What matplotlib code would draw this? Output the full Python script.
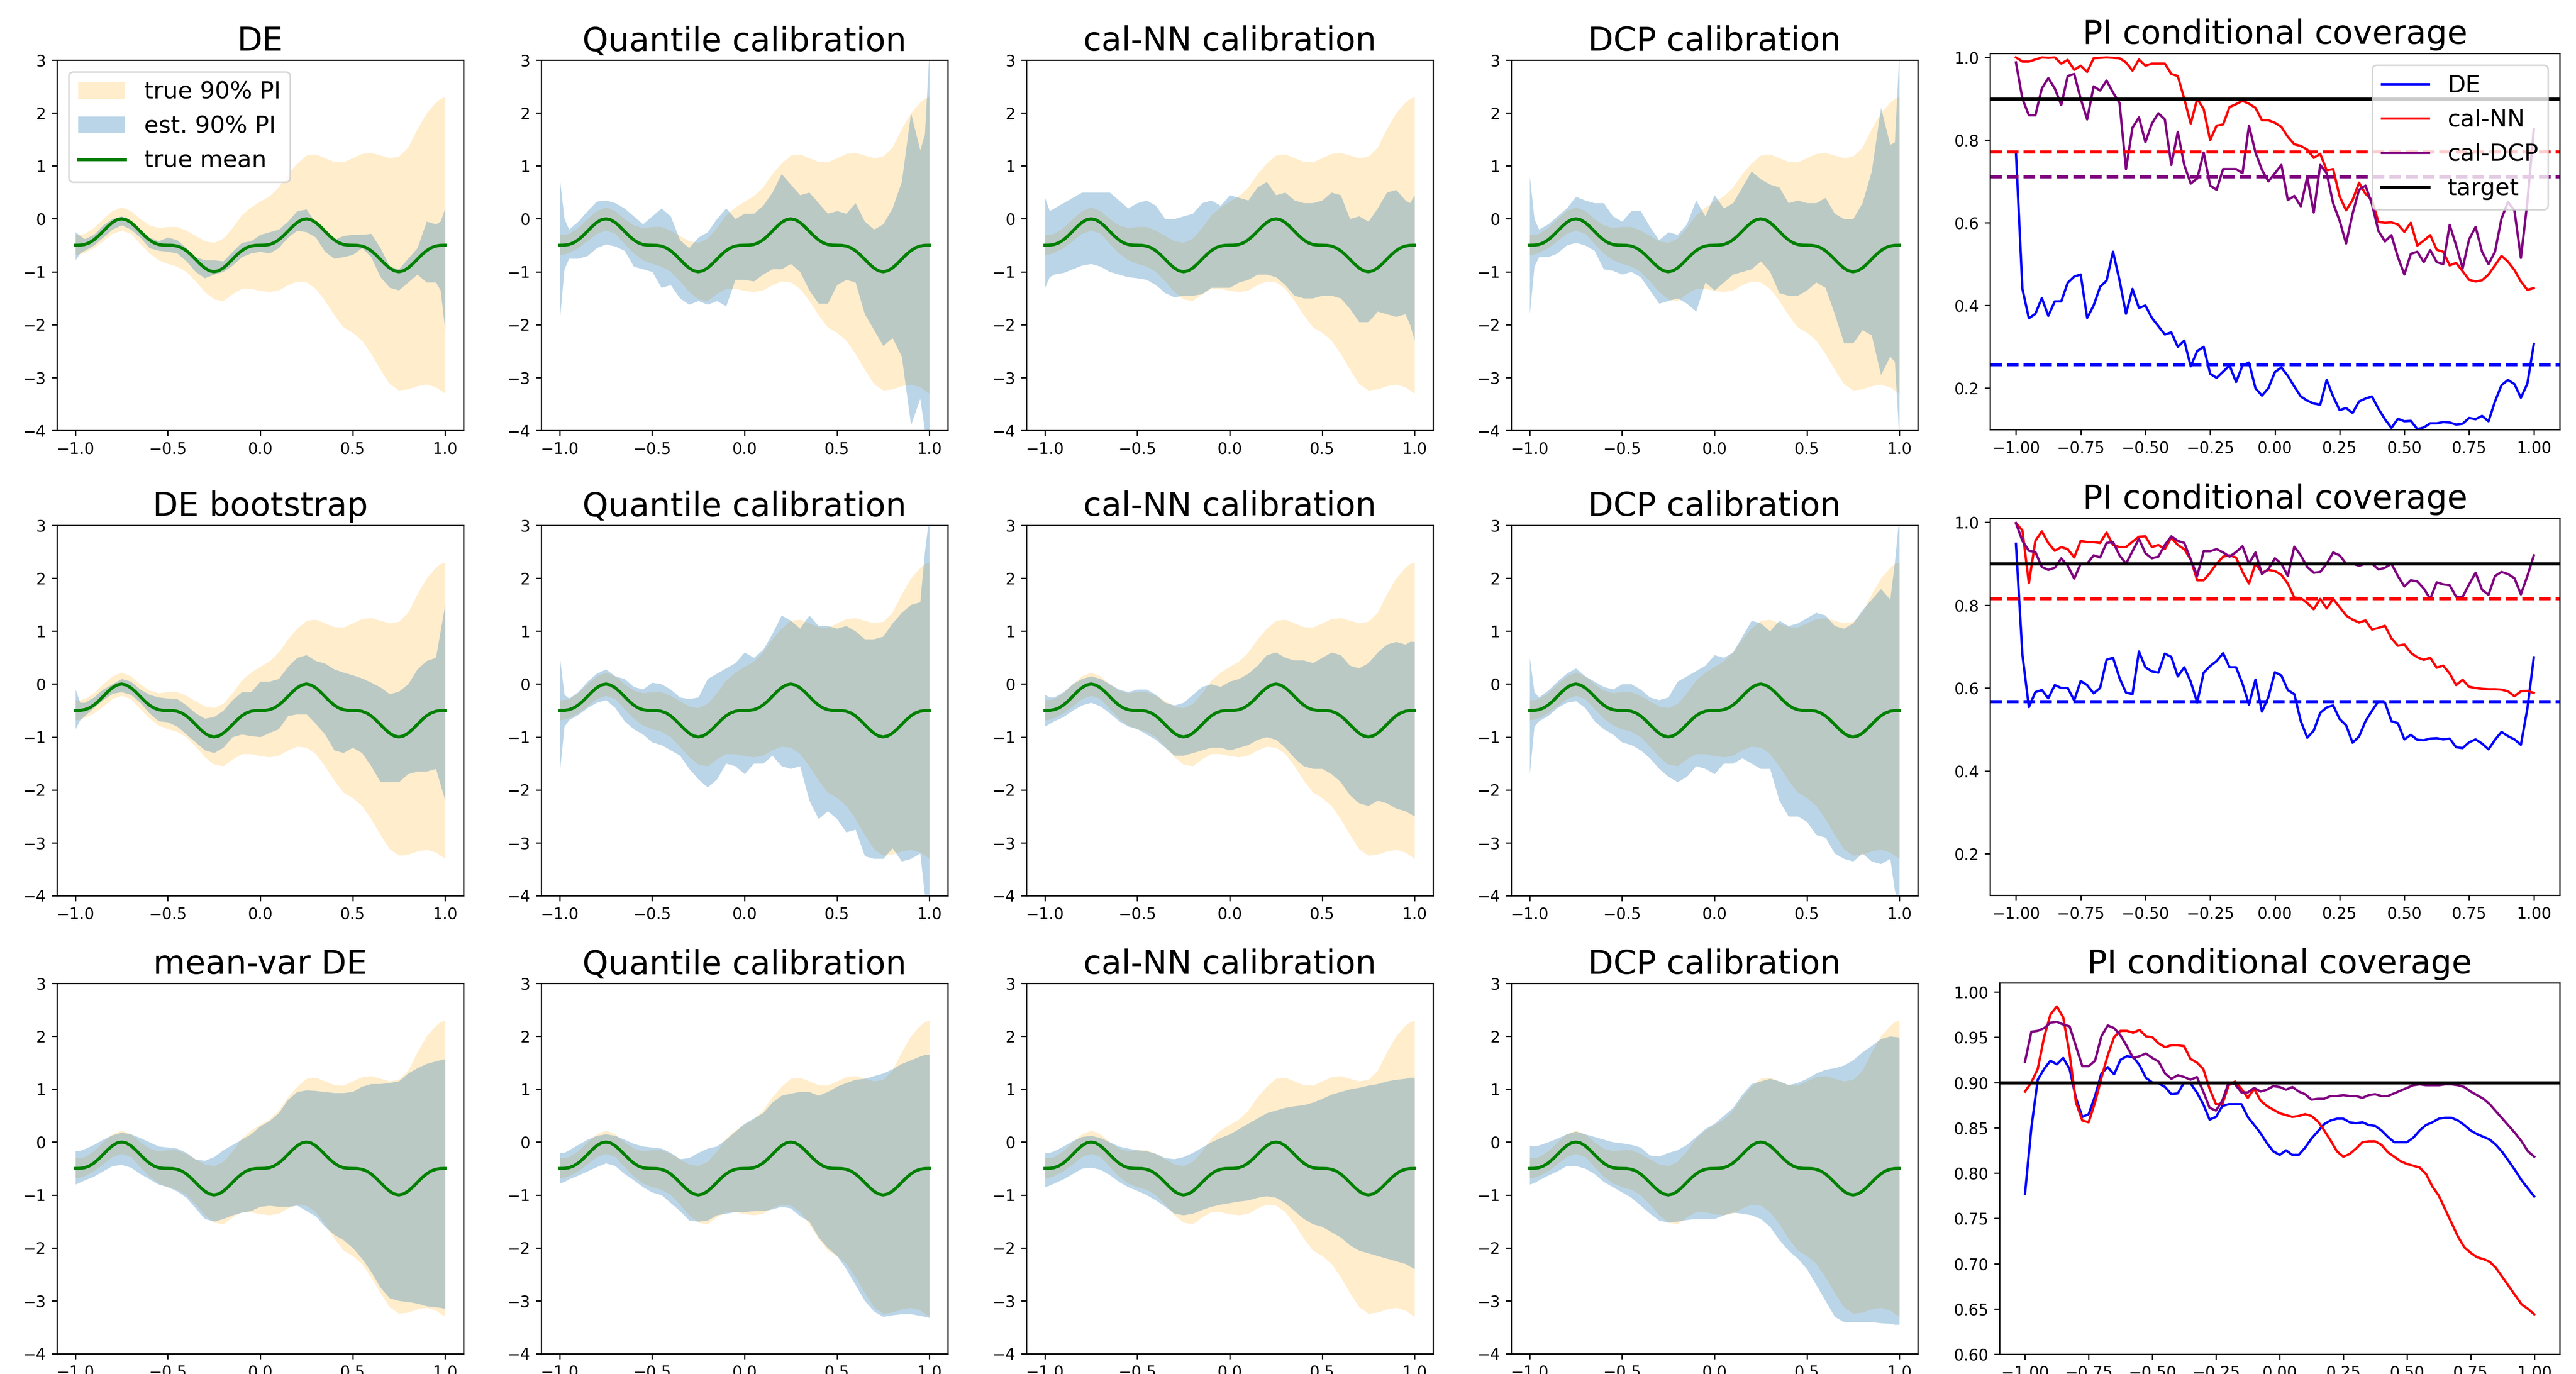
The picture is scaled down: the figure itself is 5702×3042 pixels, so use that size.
import numpy as np
import matplotlib
matplotlib.use("Agg")
import matplotlib.pyplot as plt

# ---------------------------------------------------------------- data
# x grid of the prediction-interval bands (extra points close to the edges)
X_PI = [-1.0, -0.975, -0.95, -0.9, -0.85, -0.8, -0.75, -0.7, -0.65, -0.6, -0.55,
        -0.5, -0.45, -0.4, -0.35, -0.3, -0.25, -0.2, -0.15, -0.1, -0.05, 0.0,
        0.05, 0.1, 0.15, 0.2, 0.25, 0.3, 0.35, 0.4, 0.45, 0.5, 0.55, 0.6, 0.65,
        0.7, 0.75, 0.8, 0.85, 0.9, 0.95, 0.975, 1.0]

X_MEAN = np.linspace(-1, 1, 81)
TRUE_MEAN = [-0.5, -0.498, -0.485, -0.453, -0.398, -0.323, -0.235, -0.146, -0.070, -0.018,
             0.0, -0.018, -0.070, -0.146, -0.235, -0.323, -0.398, -0.453, -0.485, -0.498,
             -0.5, -0.502, -0.515, -0.547, -0.602, -0.677, -0.765, -0.854, -0.930, -0.982,
             -1.0, -0.982, -0.930, -0.854, -0.765, -0.677, -0.602, -0.547, -0.515, -0.502,
             -0.5, -0.498, -0.485, -0.453, -0.398, -0.323, -0.235, -0.146, -0.070, -0.018,
             0.0, -0.018, -0.070, -0.146, -0.235, -0.323, -0.398, -0.453, -0.485, -0.498,
             -0.5, -0.502, -0.515, -0.547, -0.602, -0.677, -0.765, -0.854, -0.930, -0.982,
             -1.0, -0.982, -0.930, -0.854, -0.765, -0.677, -0.602, -0.547, -0.515, -0.502,
             -0.5]

TRUE_HI = [-0.30, -0.30, -0.28, -0.17, 0.0, 0.15, 0.22, 0.15, 0.0, -0.12, -0.17, -0.15, -0.15,
           -0.22, -0.32, -0.42, -0.45, -0.37, -0.17, 0.07, 0.22, 0.33, 0.43, 0.6, 0.85, 1.05,
           1.2, 1.22, 1.15, 1.08, 1.07, 1.15, 1.23, 1.25, 1.2, 1.15, 1.18, 1.35, 1.7, 2.0,
           2.2, 2.27, 2.3]
TRUE_LO = [-0.68, -0.67, -0.64, -0.55, -0.42, -0.28, -0.22, -0.28, -0.47, -0.65, -0.78, -0.85,
           -0.9, -1.0, -1.18, -1.38, -1.52, -1.55, -1.42, -1.32, -1.32, -1.36, -1.38, -1.35,
           -1.25, -1.18, -1.2, -1.32, -1.55, -1.82, -2.05, -2.15, -2.3, -2.55, -2.85, -3.12,
           -3.24, -3.22, -3.16, -3.13, -3.18, -3.24, -3.3]

# estimated 90% PI, row 1 (DE)
DE_HI = [-0.25, -0.32, -0.38, -0.3, -0.12, 0.0, 0.05, -0.05, -0.2, -0.35, -0.42, -0.35, -0.4,
         -0.55, -0.72, -0.78, -0.78, -0.8, -0.62, -0.45, -0.42, -0.3, -0.25, -0.2, -0.05, 0.15,
         0.18, -0.08, -0.2, -0.4, -0.32, -0.3, -0.3, -0.28, -0.55, -0.9, -0.95, -0.75, -0.55,
         -0.05, -0.1, -0.05, 0.2]
DE_LO = [-0.78, -0.65, -0.6, -0.5, -0.35, -0.2, -0.12, -0.2, -0.35, -0.55, -0.6, -0.62, -0.65,
         -0.8, -1.0, -1.12, -1.05, -1.0, -0.88, -0.72, -0.65, -0.62, -0.65, -0.55, -0.35, -0.22,
         -0.25, -0.35, -0.62, -0.75, -0.72, -0.68, -0.55, -0.72, -1.1, -1.3, -1.35, -1.2, -1.05,
         -1.2, -1.2, -1.35, -2.1]
Q1_HI = [0.75, 0.0, -0.2, -0.05, 0.15, 0.33, 0.35, 0.3, 0.2, 0.05, -0.1, 0.05, 0.2, 0.05, -0.4,
         -0.55, -0.35, -0.25, 0.0, 0.2, 0.0, 0.1, 0.1, 0.25, 0.5, 0.85, 0.65, 0.45, 0.5, 0.3, 0.1,
         0.15, 0.1, 0.3, -0.05, -0.2, -0.1, 0.2, 0.7, 2.0, 1.3, 1.6, 3.2]
Q1_LO = [-1.9, -0.95, -0.75, -0.75, -0.7, -0.55, -0.48, -0.52, -0.6, -0.9, -0.95, -1.0, -1.3,
         -1.25, -1.5, -1.62, -1.55, -1.62, -1.55, -1.65, -1.15, -1.15, -1.18, -1.05, -0.95,
         -0.95, -0.85, -1.0, -1.35, -1.6, -1.6, -1.25, -1.15, -1.2, -1.8, -2.1, -2.4, -2.25,
         -2.6, -3.9, -3.4, -4.0, -4.2]
NN1_HI = [0.4, 0.15, 0.2, 0.3, 0.4, 0.5, 0.5, 0.5, 0.5, 0.35, 0.2, 0.3, 0.35, 0.25, 0.0, 0.0,
          0.05, 0.1, 0.3, 0.35, 0.25, 0.45, 0.4, 0.35, 0.6, 0.7, 0.45, 0.5, 0.35, 0.3, 0.3, 0.35,
          0.5, 0.45, 0.0, 0.05, -0.05, 0.2, 0.5, 0.55, 0.35, 0.3, 0.45]
NN1_LO = [-1.3, -1.1, -1.05, -1.02, -0.95, -0.88, -0.85, -0.9, -1.0, -1.05, -1.1, -1.12, -1.15,
          -1.25, -1.4, -1.48, -1.45, -1.45, -1.42, -1.3, -1.3, -1.3, -1.2, -1.15, -1.05, -1.05,
          -1.1, -1.25, -1.45, -1.5, -1.5, -1.45, -1.45, -1.5, -1.7, -1.95, -1.95, -1.75, -1.8,
          -1.85, -1.8, -2.0, -2.3]
DCP1_HI = [0.8, 0.0, -0.2, -0.1, 0.05, 0.2, 0.42, 0.35, 0.3, 0.3, 0.05, -0.05, 0.15, 0.15, -0.15,
           -0.4, -0.25, -0.3, -0.1, 0.35, 0.05, 0.45, 0.2, 0.3, 0.6, 0.9, 0.75, 0.65, 0.6, 0.3,
           0.35, 0.3, 0.3, 0.4, 0.1, 0.0, 0.0, 0.3, 0.9, 2.1, 1.4, 1.45, 3.2]
DCP1_LO = [-1.8, -0.9, -0.72, -0.72, -0.65, -0.5, -0.45, -0.5, -0.6, -0.95, -0.98, -1.05, -1.0,
           -1.1, -1.35, -1.6, -1.55, -1.5, -1.6, -1.75, -1.2, -1.35, -1.2, -1.05, -1.0, -0.95,
           -0.8, -1.0, -1.4, -1.45, -1.45, -1.35, -1.2, -1.3, -1.8, -2.35, -2.35, -2.1, -2.2,
           -2.95, -2.6, -2.7, -4.2]

# row 2 (DE bootstrap)
BS_HI = [-0.1, -0.35, -0.35, -0.25, -0.1, 0.0, 0.1, 0.05, -0.1, -0.2, -0.25, -0.27, -0.28, -0.4,
         -0.55, -0.65, -0.62, -0.5, -0.3, -0.15, -0.15, 0.05, 0.05, 0.1, 0.33, 0.5, 0.55, 0.44,
         0.39, 0.28, 0.22, 0.17, 0.11, 0.03, -0.06, -0.19, -0.14, 0.0, 0.28, 0.44, 0.5, 1.0, 1.5]
BS_LO = [-0.85, -0.68, -0.6, -0.45, -0.3, -0.18, -0.15, -0.2, -0.35, -0.55, -0.7, -0.72, -0.8,
         -0.95, -1.1, -1.25, -1.3, -1.2, -1.0, -0.95, -0.98, -1.0, -0.92, -0.85, -0.6, -0.57,
         -0.57, -0.75, -0.95, -1.25, -1.3, -1.2, -1.3, -1.55, -1.85, -1.85, -1.85, -1.7, -1.65,
         -1.65, -1.6, -1.9, -2.2]
Q2_HI = [0.5, -0.2, -0.27, -0.15, 0.05, 0.2, 0.28, 0.15, 0.1, -0.05, -0.1, 0.03, 0.0, -0.1, -0.25,
         -0.28, -0.25, 0.1, 0.2, 0.3, 0.4, 0.6, 0.5, 0.65, 0.95, 1.3, 1.2, 1.05, 1.3, 1.1, 1.1,
         1.05, 1.1, 1.0, 0.85, 0.85, 0.9, 1.15, 1.35, 1.5, 1.55, 2.5, 3.2]
Q2_LO = [-1.65, -0.8, -0.68, -0.58, -0.45, -0.35, -0.3, -0.45, -0.7, -0.85, -0.95, -1.1, -1.15,
         -1.25, -1.35, -1.6, -1.8, -1.95, -1.8, -1.5, -1.55, -1.7, -1.5, -1.5, -1.35, -1.55, -1.6,
         -1.55, -2.2, -2.55, -2.4, -2.55, -2.8, -2.75, -3.25, -3.3, -3.3, -3.1, -3.35, -3.3,
         -3.2, -4.0, -4.2]
NN2_HI = [-0.2, -0.25, -0.25, -0.15, 0.0, 0.1, 0.15, 0.1, 0.0, -0.1, -0.15, -0.1, -0.1, -0.2,
          -0.35, -0.4, -0.35, -0.2, -0.05, 0.0, -0.05, 0.05, 0.1, 0.2, 0.35, 0.55, 0.6, 0.5, 0.45,
          0.45, 0.4, 0.5, 0.6, 0.55, 0.35, 0.3, 0.4, 0.6, 0.75, 0.8, 0.75, 0.8, 0.8]
NN2_LO = [-0.8, -0.75, -0.7, -0.62, -0.5, -0.4, -0.35, -0.42, -0.55, -0.7, -0.8, -0.85, -0.95,
          -1.05, -1.2, -1.35, -1.35, -1.3, -1.25, -1.2, -1.2, -1.25, -1.2, -1.15, -1.05, -1.0,
          -1.05, -1.2, -1.4, -1.55, -1.6, -1.6, -1.7, -1.85, -2.1, -2.25, -2.3, -2.2, -2.25,
          -2.35, -2.4, -2.45, -2.5]
DCP2_HI = [0.5, -0.15, -0.25, -0.12, 0.05, 0.2, 0.3, 0.15, 0.05, -0.05, -0.1, 0.0, 0.0, -0.1,
           -0.25, -0.3, -0.25, 0.05, 0.15, 0.25, 0.35, 0.55, 0.5, 0.6, 0.9, 1.2, 1.15, 1.0, 1.2,
           1.1, 1.15, 1.25, 1.35, 1.3, 1.1, 1.05, 1.15, 1.4, 1.6, 1.8, 1.6, 2.3, 3.2]
DCP2_LO = [-1.7, -0.8, -0.7, -0.6, -0.45, -0.35, -0.32, -0.45, -0.7, -0.85, -0.95, -1.1, -1.15,
           -1.25, -1.4, -1.6, -1.75, -1.85, -1.75, -1.55, -1.6, -1.7, -1.5, -1.5, -1.4, -1.5,
           -1.6, -1.6, -2.2, -2.5, -2.5, -2.6, -2.85, -2.9, -3.2, -3.3, -3.35, -3.2, -3.35, -3.4,
           -3.3, -3.9, -4.2]

# row 3 (mean-var DE)
MV_HI = [-0.17, -0.16, -0.13, -0.05, 0.05, 0.13, 0.18, 0.15, 0.08, 0.0, -0.08, -0.1, -0.12, -0.2,
         -0.33, -0.35, -0.28, -0.15, -0.05, 0.05, 0.15, 0.3, 0.4, 0.55, 0.8, 0.95, 0.98, 0.97,
         0.95, 0.93, 0.93, 0.95, 1.05, 1.1, 1.1, 1.12, 1.15, 1.3, 1.4, 1.48, 1.53, 1.55, 1.57]
MV_LO = [-0.8, -0.76, -0.72, -0.65, -0.55, -0.45, -0.43, -0.48, -0.6, -0.7, -0.8, -0.85, -0.93,
         -1.05, -1.25, -1.45, -1.5, -1.45, -1.38, -1.33, -1.3, -1.22, -1.2, -1.22, -1.22, -1.2,
         -1.3, -1.4, -1.6, -1.75, -1.85, -2.0, -2.2, -2.45, -2.75, -2.95, -3.0, -3.02, -3.05,
         -3.1, -3.12, -3.13, -3.15]
Q3_HI = [-0.2, -0.2, -0.15, -0.05, 0.05, 0.12, 0.15, 0.12, 0.05, -0.03, -0.08, -0.1, -0.12, -0.2,
         -0.32, -0.3, -0.2, -0.12, -0.08, 0.05, 0.2, 0.35, 0.45, 0.55, 0.75, 0.88, 0.92, 0.95,
         0.95, 0.88, 0.95, 1.05, 1.12, 1.18, 1.2, 1.25, 1.3, 1.38, 1.48, 1.55, 1.62, 1.65, 1.65]
Q3_LO = [-0.78, -0.75, -0.7, -0.63, -0.55, -0.47, -0.4, -0.45, -0.6, -0.72, -0.85, -0.95, -1.0,
         -1.15, -1.3, -1.48, -1.5, -1.48, -1.38, -1.35, -1.32, -1.32, -1.3, -1.3, -1.27, -1.22,
         -1.25, -1.4, -1.5, -1.8, -2.0, -2.15, -2.4, -2.7, -3.0, -3.2, -3.3, -3.27, -3.25, -3.25,
         -3.28, -3.3, -3.32]
NN3_HI = [-0.2, -0.2, -0.17, -0.08, 0.02, 0.1, 0.12, 0.08, 0.0, -0.08, -0.12, -0.15, -0.17, -0.22,
          -0.3, -0.32, -0.28, -0.2, -0.1, 0.0, 0.08, 0.15, 0.25, 0.35, 0.45, 0.55, 0.6, 0.65, 0.68,
          0.7, 0.75, 0.82, 0.9, 0.95, 1.0, 1.03, 1.07, 1.1, 1.15, 1.18, 1.2, 1.22, 1.22]
NN3_LO = [-0.85, -0.82, -0.78, -0.7, -0.6, -0.5, -0.48, -0.52, -0.62, -0.75, -0.85, -0.92, -1.0,
          -1.1, -1.22, -1.35, -1.38, -1.35, -1.28, -1.22, -1.18, -1.15, -1.12, -1.1, -1.05, -1.02,
          -1.05, -1.15, -1.3, -1.45, -1.55, -1.6, -1.7, -1.8, -1.95, -2.05, -2.1, -2.15, -2.2,
          -2.25, -2.3, -2.35, -2.4]
DCP3_HI = [-0.07, -0.08, -0.06, 0.0, 0.07, 0.15, 0.2, 0.15, 0.1, 0.05, 0.0, -0.02, -0.05, -0.1,
           -0.25, -0.27, -0.2, -0.15, -0.05, 0.1, 0.25, 0.35, 0.5, 0.65, 0.9, 1.1, 1.15, 1.2, 1.15,
           1.08, 1.12, 1.2, 1.3, 1.37, 1.4, 1.45, 1.55, 1.7, 1.82, 1.95, 2.0, 1.99, 1.98]
DCP3_LO = [-0.8, -0.77, -0.72, -0.63, -0.55, -0.45, -0.45, -0.5, -0.6, -0.75, -0.85, -0.95, -1.05,
           -1.2, -1.35, -1.48, -1.52, -1.5, -1.47, -1.45, -1.45, -1.45, -1.38, -1.33, -1.35, -1.38,
           -1.45, -1.6, -1.85, -2.05, -2.2, -2.4, -2.7, -3.0, -3.3, -3.4, -3.4, -3.4, -3.4, -3.42,
           -3.43, -3.45, -3.45]

# conditional coverage curves (x from -1 to 1, step 0.025)
X_COV = np.linspace(-1, 1, 81)
COV1_DE = [0.771, 0.44, 0.369, 0.38, 0.418, 0.375, 0.41, 0.41, 0.455, 0.47, 0.475, 0.37, 0.4,
           0.445, 0.46, 0.53, 0.461, 0.38, 0.44, 0.394, 0.4, 0.37, 0.35, 0.33, 0.335, 0.3, 0.315,
           0.253, 0.29, 0.3, 0.235, 0.225, 0.24, 0.255, 0.215, 0.255, 0.262, 0.2, 0.182, 0.2,
           0.239, 0.25, 0.23, 0.204, 0.18, 0.17, 0.163, 0.16, 0.22, 0.18, 0.147, 0.152, 0.14,
           0.168, 0.175, 0.18, 0.15, 0.125, 0.104, 0.126, 0.12, 0.121, 0.101, 0.105, 0.115,
           0.115, 0.118, 0.117, 0.112, 0.114, 0.128, 0.125, 0.133, 0.12, 0.168, 0.207, 0.22,
           0.21, 0.177, 0.211, 0.307]
COV1_NN = [1.0, 0.99, 0.99, 0.995, 1.0, 0.999, 1.0, 0.985, 0.994, 0.97, 0.98, 0.965, 0.998,
           0.999, 1.0, 0.999, 0.998, 0.988, 0.968, 0.995, 0.98, 0.985, 0.985, 0.985, 0.96, 0.955,
           0.9, 0.84, 0.9, 0.875, 0.8, 0.835, 0.838, 0.88, 0.887, 0.895, 0.888, 0.878, 0.848,
           0.848, 0.842, 0.832, 0.808, 0.79, 0.786, 0.777, 0.757, 0.767, 0.727, 0.73, 0.664,
           0.63, 0.655, 0.697, 0.67, 0.655, 0.602, 0.6, 0.601, 0.596, 0.578, 0.6, 0.545, 0.557,
           0.57, 0.535, 0.53, 0.497, 0.503, 0.483, 0.462, 0.458, 0.461, 0.475, 0.497, 0.52,
           0.506, 0.486, 0.458, 0.438, 0.442]
COV1_DCP = [0.988, 0.9, 0.86, 0.86, 0.925, 0.95, 0.925, 0.885, 0.955, 0.96, 0.9, 0.85, 0.93,
            0.92, 0.944, 0.915, 0.89, 0.73, 0.83, 0.855, 0.795, 0.84, 0.865, 0.85, 0.74, 0.82,
            0.74, 0.695, 0.707, 0.77, 0.69, 0.68, 0.73, 0.73, 0.73, 0.72, 0.835, 0.77, 0.728,
            0.7, 0.72, 0.74, 0.655, 0.665, 0.64, 0.711, 0.625, 0.74, 0.72, 0.647, 0.605, 0.55,
            0.622, 0.68, 0.69, 0.645, 0.58, 0.555, 0.57, 0.517, 0.475, 0.525, 0.53, 0.505, 0.534,
            0.505, 0.5, 0.595, 0.545, 0.49, 0.56, 0.59, 0.53, 0.5, 0.53, 0.61, 0.65, 0.63, 0.515,
            0.65, 0.827]
COV2_DE = [0.948, 0.68, 0.554, 0.59, 0.595, 0.575, 0.607, 0.6, 0.6, 0.57, 0.617, 0.607, 0.587,
           0.6, 0.668, 0.673, 0.624, 0.589, 0.585, 0.688, 0.65, 0.64, 0.637, 0.683, 0.675, 0.628,
           0.65, 0.615, 0.565, 0.637, 0.653, 0.665, 0.684, 0.65, 0.65, 0.61, 0.56, 0.62, 0.543,
           0.578, 0.638, 0.63, 0.595, 0.585, 0.52, 0.48, 0.497, 0.54, 0.553, 0.558, 0.525, 0.51,
           0.468, 0.483, 0.52, 0.545, 0.568, 0.565, 0.52, 0.515, 0.476, 0.487, 0.475, 0.474,
           0.478, 0.479, 0.476, 0.478, 0.457, 0.455, 0.469, 0.476, 0.466, 0.452, 0.475, 0.494,
           0.484, 0.476, 0.463, 0.55, 0.674]
COV2_NN = [0.998, 0.98, 0.853, 0.955, 0.978, 0.95, 0.931, 0.94, 0.935, 0.915, 0.955, 0.952,
           0.952, 0.95, 0.975, 0.945, 0.94, 0.94, 0.953, 0.965, 0.966, 0.94, 0.945, 0.935, 0.963,
           0.945, 0.935, 0.91, 0.86, 0.86, 0.878, 0.9, 0.917, 0.92, 0.915, 0.88, 0.852, 0.9,
           0.878, 0.885, 0.882, 0.873, 0.852, 0.818, 0.817, 0.805, 0.79, 0.815, 0.792, 0.815,
           0.795, 0.775, 0.765, 0.758, 0.763, 0.741, 0.745, 0.75, 0.72, 0.702, 0.705, 0.685,
           0.674, 0.668, 0.673, 0.649, 0.654, 0.635, 0.607, 0.62, 0.603, 0.6, 0.598, 0.597,
           0.597, 0.596, 0.592, 0.58, 0.592, 0.593, 0.588]
COV2_DCP = [0.998, 0.955, 0.931, 0.928, 0.892, 0.885, 0.89, 0.913, 0.895, 0.864, 0.9, 0.9, 0.92,
            0.915, 0.95, 0.952, 0.92, 0.9, 0.93, 0.96, 0.925, 0.913, 0.917, 0.945, 0.966, 0.955,
            0.95, 0.91, 0.871, 0.93, 0.93, 0.935, 0.927, 0.917, 0.928, 0.942, 0.9, 0.927, 0.875,
            0.887, 0.913, 0.9, 0.87, 0.941, 0.92, 0.892, 0.878, 0.88, 0.9, 0.927, 0.92, 0.9, 0.9,
            0.895, 0.9, 0.9, 0.886, 0.89, 0.9, 0.87, 0.845, 0.86, 0.857, 0.84, 0.815, 0.855, 0.85,
            0.848, 0.82, 0.82, 0.85, 0.878, 0.837, 0.825, 0.87, 0.88, 0.875, 0.865, 0.826, 0.87,
            0.92]
COV3_DE = [0.777, 0.85, 0.903, 0.915, 0.924, 0.92, 0.927, 0.915, 0.883, 0.862, 0.865, 0.885,
           0.91, 0.917, 0.909, 0.925, 0.929, 0.928, 0.919, 0.905, 0.9, 0.899, 0.895, 0.887, 0.888,
           0.9, 0.899, 0.889, 0.876, 0.859, 0.862, 0.874, 0.876, 0.876, 0.876, 0.862, 0.853,
           0.844, 0.833, 0.824, 0.82, 0.825, 0.82, 0.82, 0.828, 0.838, 0.846, 0.854, 0.858, 0.86,
           0.86, 0.856, 0.855, 0.856, 0.853, 0.852, 0.847, 0.84, 0.834, 0.834, 0.834, 0.839,
           0.847, 0.853, 0.856, 0.86, 0.861, 0.861, 0.858, 0.853, 0.847, 0.843, 0.84, 0.837,
           0.831, 0.823, 0.813, 0.803, 0.792, 0.783, 0.774]
COV3_NN = [0.89, 0.9, 0.915, 0.95, 0.975, 0.984, 0.972, 0.932, 0.878, 0.858, 0.856, 0.878, 0.905,
           0.93, 0.95, 0.957, 0.957, 0.955, 0.958, 0.951, 0.95, 0.943, 0.939, 0.941, 0.941, 0.94,
           0.926, 0.922, 0.915, 0.893, 0.876, 0.876, 0.897, 0.901, 0.893, 0.883, 0.893, 0.88,
           0.874, 0.87, 0.866, 0.864, 0.862, 0.863, 0.865, 0.863, 0.857, 0.847, 0.836, 0.824,
           0.818, 0.821, 0.827, 0.834, 0.835, 0.835, 0.831, 0.823, 0.818, 0.813, 0.81, 0.808,
           0.806, 0.799, 0.785, 0.775, 0.76, 0.745, 0.73, 0.718, 0.712, 0.707, 0.705, 0.702,
           0.695, 0.685, 0.675, 0.665, 0.655, 0.65, 0.644]
COV3_DCP = [0.923, 0.956, 0.957, 0.96, 0.966, 0.967, 0.964, 0.962, 0.94, 0.918, 0.918, 0.924,
            0.951, 0.963, 0.96, 0.952, 0.94, 0.927, 0.929, 0.932, 0.927, 0.923, 0.91, 0.904,
            0.908, 0.906, 0.903, 0.906, 0.89, 0.872, 0.869, 0.88, 0.9, 0.898, 0.889, 0.889, 0.894,
            0.89, 0.892, 0.896, 0.895, 0.892, 0.895, 0.89, 0.887, 0.881, 0.882, 0.882, 0.885,
            0.885, 0.886, 0.885, 0.885, 0.883, 0.886, 0.887, 0.885, 0.885, 0.888, 0.891, 0.894,
            0.897, 0.898, 0.897, 0.897, 0.897, 0.898, 0.898, 0.897, 0.895, 0.89, 0.886, 0.882,
            0.876, 0.868, 0.86, 0.852, 0.844, 0.835, 0.824, 0.818]

# average coverage per method (dashed lines), None = not drawn
AVG_COV = [(0.257, 0.772, 0.712), (0.568, 0.816, None), (None, None, None)]
TARGET = 0.9

ROW_NAMES = ["DE", "DE bootstrap", "mean-var DE"]
COL_NAMES = ["Quantile calibration", "cal-NN calibration", "DCP calibration"]
BANDS = [[(DE_HI, DE_LO), (Q1_HI, Q1_LO), (NN1_HI, NN1_LO), (DCP1_HI, DCP1_LO)],
         [(BS_HI, BS_LO), (Q2_HI, Q2_LO), (NN2_HI, NN2_LO), (DCP2_HI, DCP2_LO)],
         [(MV_HI, MV_LO), (Q3_HI, Q3_LO), (NN3_HI, NN3_LO), (DCP3_HI, DCP3_LO)]]
COVERAGE = [(COV1_DE, COV1_NN, COV1_DCP),
            (COV2_DE, COV2_NN, COV2_DCP),
            (COV3_DE, COV3_NN, COV3_DCP)]

# ---------------------------------------------------------------- layout (pixels)
W, H, DPI = 5702, 3042, 250
COL_LEFT = [126, 1198, 2272, 3345]
COL_W = 900
ROW_TOP = [133, 1163, 2177]
ROW_H = 820
COV_BOX = [(4405, 118, 1261, 833), (4405, 1147, 1261, 835), (4426, 2176, 1240, 822)]


def px_rect(x, y, w, h):
    return [x / W, 1 - (y + h) / H, w / W, h / H]


fig = plt.figure(figsize=(W / DPI, H / DPI), dpi=DPI)

for r in range(3):
    titles = [ROW_NAMES[r]] + COL_NAMES
    for c in range(4):
        ax = fig.add_axes(px_rect(COL_LEFT[c], ROW_TOP[r], COL_W, ROW_H))
        hi, lo = BANDS[r][c]
        ax.fill_between(X_PI, TRUE_LO, TRUE_HI, color="orange", alpha=0.2, lw=0,
                        label="true 90% PI")
        ax.fill_between(X_PI, lo, hi, color="tab:blue", alpha=0.3, lw=0,
                        label="est. 90% PI")
        ax.plot(X_MEAN, TRUE_MEAN, color="green", lw=2, label="true mean")
        ax.set_xlim(-1.1, 1.1)
        ax.set_ylim(-4, 3)
        ax.set_xticks([-1.0, -0.5, 0.0, 0.5, 1.0])
        ax.set_title(titles[c], fontsize=21)
        if r == 0 and c == 0:
            ax.legend(loc="upper left", fontsize=15)

    # conditional coverage panel
    ax = fig.add_axes(px_rect(*COV_BOX[r]))
    de, nn, dcp = COVERAGE[r]
    ax.plot(X_COV, de, color="blue", lw=1.5, label="DE")
    ax.plot(X_COV, nn, color="red", lw=1.5, label="cal-NN")
    ax.plot(X_COV, dcp, color="purple", lw=1.5, label="cal-DCP")
    ax.axhline(TARGET, color="black", lw=2, label="target")
    for val, col in zip(AVG_COV[r], ["blue", "red", "purple"]):
        if val is not None:
            ax.axhline(val, color=col, ls="--", lw=2)
    ax.set_xlim(-1.1, 1.1)
    ax.set_xticks([-1.0, -0.75, -0.5, -0.25, 0.0, 0.25, 0.5, 0.75, 1.0])
    if r < 2:
        ax.set_ylim(0.1, 1.01)
        ax.set_yticks([0.2, 0.4, 0.6, 0.8, 1.0])
    else:
        ax.set_ylim(0.6, 1.01)
        ax.set_yticks([0.6, 0.65, 0.7, 0.75, 0.8, 0.85, 0.9, 0.95, 1.0])
    ax.set_title("PI conditional coverage", fontsize=21)
    if r == 0:
        ax.legend(loc="upper right", fontsize=15)

fig.savefig("out.png", dpi=DPI)
plt.close(fig)
